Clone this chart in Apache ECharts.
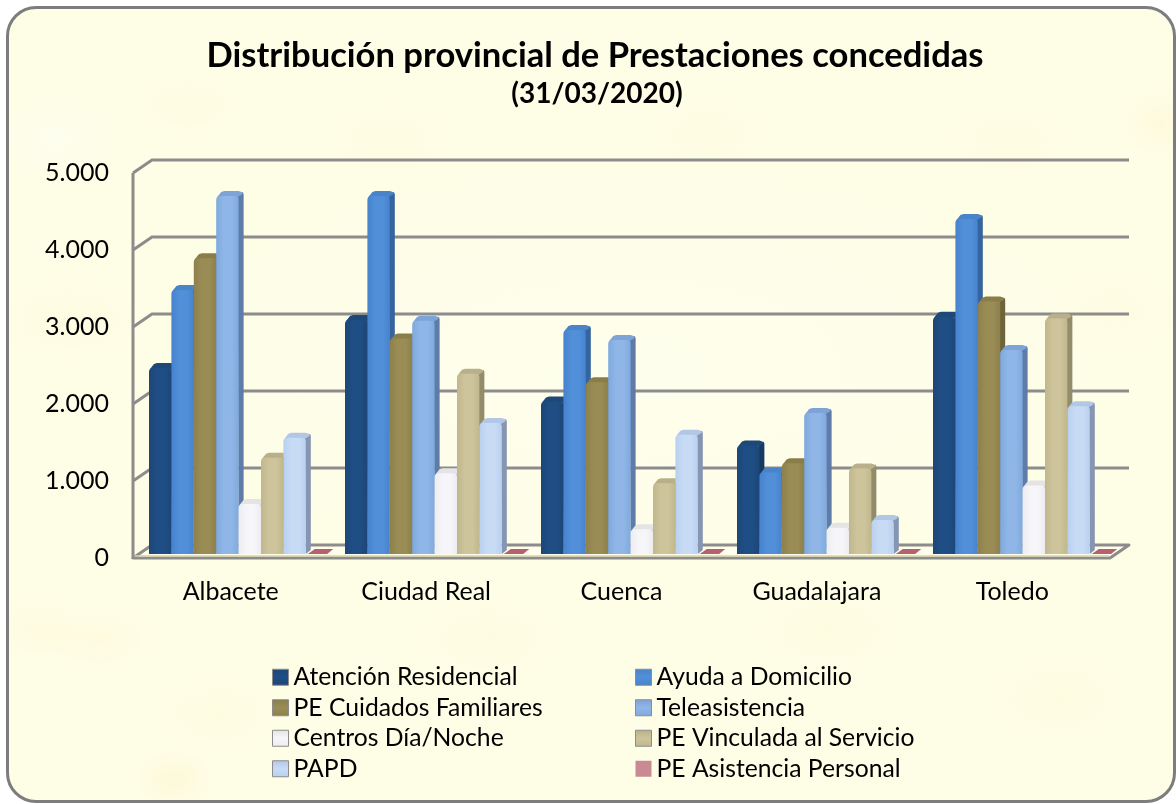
<!DOCTYPE html>
<html><head><meta charset="utf-8">
<style>
html,body{margin:0;padding:0;background:#fff;width:1176px;height:804px;overflow:hidden}
#frame{position:absolute;left:6px;top:6px;width:1164px;height:791px;border:3px solid #7d7d7d;border-radius:30px;
background-color:#fefde6;
background-image:
radial-gradient(ellipse 60px 40px at 45px 130px,rgba(255,255,248,.55),transparent),
radial-gradient(ellipse 50px 30px at 180px 95px,rgba(252,245,205,.25),transparent),
radial-gradient(ellipse 60px 35px at 380px 130px,rgba(252,245,205,.22),transparent),
radial-gradient(ellipse 60px 35px at 700px 125px,rgba(252,245,205,.2),transparent),
radial-gradient(ellipse 40px 35px at 1150px 115px,rgba(252,243,200,.35),transparent),
radial-gradient(ellipse 60px 35px at 1000px 130px,rgba(252,245,205,.2),transparent),
radial-gradient(ellipse 70px 40px at 60px 310px,rgba(252,245,205,.25),transparent),
radial-gradient(ellipse 50px 30px at 30px 620px,rgba(252,245,205,.3),transparent),
radial-gradient(ellipse 40px 30px at 165px 770px,rgba(250,240,190,.35),transparent),
radial-gradient(ellipse 55px 30px at 90px 630px,rgba(252,245,205,.3),transparent),
radial-gradient(ellipse 60px 35px at 210px 705px,rgba(252,245,205,.25),transparent),
radial-gradient(ellipse 70px 40px at 480px 630px,rgba(252,245,205,.25),transparent),
radial-gradient(ellipse 70px 40px at 820px 620px,rgba(252,245,205,.25),transparent),
radial-gradient(ellipse 70px 40px at 1050px 690px,rgba(252,245,205,.25),transparent),
radial-gradient(ellipse 70px 40px at 1100px 300px,rgba(252,245,205,.15),transparent),
radial-gradient(ellipse 520px 220px at 620px 360px,rgba(255,255,240,.7),transparent)}
#c{position:absolute;left:0;top:0;width:1176px;height:804px}
</style>
<script src="https://cdn.jsdelivr.net/npm/echarts@6/dist/echarts.min.js"></script>
</head><body><div id="frame"></div><div id="c"></div>
<script>
const categories = ['Albacete','Ciudad Real','Cuenca','Guadalajara','Toledo'];
const atencionResidencial = [2415,3040,1980,1410,3080];
const ayudaDomicilio = [3430,4650,2910,1060,4350];
const peCuidados = [3840,2800,2230,1180,3280];
const teleasistencia = [4650,3030,2780,1830,2650];
const centrosDiaNoche = [650,1050,320,340,890];
const peVinculada = [1250,2340,920,1110,3060];
const papd = [1510,1700,1550,440,1920];
const peAsistencia = [15,20,10,30,10];
const yTicks = [0,1000,2000,3000,4000,5000];

const seriesNames = ['Atención Residencial','Ayuda a Domicilio','PE Cuidados Familiares','Teleasistencia','Centros Día/Noche','PE Vinculada al Servicio','PAPD','PE Asistencia Personal'];
const seriesValues = [atencionResidencial,ayudaDomicilio,peCuidados,teleasistencia,centrosDiaNoche,peVinculada,papd,peAsistencia];
// front edge colour, centre colour, side, cap
const palette = [
 ['#1c4676','#1f4e85','#173a63','#1d4878'],
 ['#4682cd','#528fd9','#35659f','#4a84c8'],
 ['#8d804c','#9a8c55','#6f6439','#8a7d49'],
 ['#7fa9de','#8fb6e6','#5f7ca8','#7ea3d6'],
 ['#ececf1','#f6f6fa','#c4c4c4','#e4e4e4'],
 ['#c1b78c','#cdc49c','#938c6b','#b9b08a'],
 ['#b8d0ef','#c8dbf5','#8696b2','#b2c7e6'],
 ['#c07a85','#c98a93','#a05560','#b5616e']
];
const FW = 22.4, BAR_LEFT = 8, BAR_DROP = 4, SIDE = 5, CAP = 5, WALL_DX = 19, WALL_DY = 13;

function fmt(v){return String(v).replace(/\B(?=(\d{3})+$)/g,'.');}

function wallItem(params, api){
  const v = api.value(0);
  const n = categories.length;
  const band = api.size([1,0])[0];
  const c = api.coord([0,v]);
  const xL = c[0]-band/2, xR = xL+band*n, y = c[1];
  return {type:'polyline',shape:{points:[[xL,y],[xL+WALL_DX,y-WALL_DY],[xR+WALL_DX,y-WALL_DY]]},
    style:{stroke:'#8c8c8c',lineWidth:3,fill:null}};
}
function floorItem(params, api){
  const n = categories.length;
  const band = api.size([1,0])[0];
  const c0 = api.coord([0,0]), c5 = api.coord([0,yTicks[yTicks.length-1]]);
  const xL = c0[0]-band/2, xR = xL+band*n, y = c0[1];
  return {type:'group',children:[
    {type:'polygon',shape:{points:[[xL,y],[xR,y],[xR+WALL_DX,y-WALL_DY],[xL+WALL_DX,y-WALL_DY]]},
     style:{fill:'rgba(255,254,235,0.7)',stroke:'#8c8c8c',lineWidth:3,lineJoin:'round'}},
    {type:'line',shape:{x1:xL+1,y1:y-2,x2:xR-1,y2:y-2},style:{stroke:'#d9d2a8',lineWidth:1.5}},
    {type:'line',shape:{x1:xL,y1:y+1,x2:xL,y2:c5[1]},style:{stroke:'#8c8c8c',lineWidth:3}}
  ]};
}
function barItem(si){
  return function(params, api){
    const c = api.coord([api.value(0),api.value(1)]);
    const base = api.coord([api.value(0),0]);
    const band = api.size([1,0])[0];
    const x = c[0]-band/2+BAR_LEFT+si*FW, yT = c[1]-BAR_DROP, yB = base[1]-BAR_DROP;
    const p = palette[si];
    const grad = new echarts.graphic.LinearGradient(0,0,1,0,[{offset:0,color:p[0]},{offset:.35,color:p[1]},{offset:.7,color:p[1]},{offset:1,color:p[0]}]);
    const flat = yB-yT < 4;
    const kids = [];
    if(!flat){
      kids.push({type:'polygon',shape:{points:[[x+FW-1,yT-1],[x+FW+SIDE-1,yT-CAP+1],[x+FW+SIDE,yT-CAP+3],[x+FW+SIDE,yB-CAP+1],[x+FW,yB]]},style:{fill:p[2]}});
      kids.push({type:'polygon',shape:{points:[[x+1,yT+1],[x+FW-1,yT+1],[x+FW+SIDE-1,yT-CAP+3],[x+FW+SIDE-2,yT-CAP+1],[x+FW+SIDE-5,yT-CAP],[x+SIDE+3,yT-CAP],[x+SIDE,yT-CAP+1]]},style:{fill:p[3]}});
      kids.push({type:'rect',shape:{x:x,y:yT,width:FW,height:yB-yT,r:[4,4,0,0]},style:{fill:grad}});
    } else {
      kids.push({type:'polygon',shape:{points:[[x+2,yB],[x+FW-1,yB],[x+FW+SIDE,yB-CAP],[x+SIDE+4,yB-CAP]]},style:{fill:p[3]}});
    }
    return {type:'group',children:kids};
  };
}
const series = [
  {type:'custom',silent:true,z:1,xAxisIndex:0,yAxisIndex:0,data:yTicks.slice(1).map(v=>[v]),encode:{y:0},renderItem:wallItem,clip:false},
  {type:'custom',silent:true,z:1,xAxisIndex:0,yAxisIndex:0,data:[[0]],encode:{y:0},renderItem:floorItem,clip:false}
];
seriesNames.forEach((name,si)=>{
  series.push({type:'custom',name,z:2+si,xAxisIndex:1,yAxisIndex:1,legendIcon:'rect',itemStyle:{color:palette[si][1]},
    data:seriesValues[si].map((v,i)=>[i,v]),encode:{x:0,y:1},renderItem:barItem(si),clip:false});
});
function legendEntry(i){
  const p = palette[i];
  if(i===7) return {name:seriesNames[i],icon:'rect',itemStyle:{color:p[1],borderWidth:0}};
  return {name:seriesNames[i],icon:'rect',itemStyle:{color:new echarts.graphic.LinearGradient(0,0,0,1,[{offset:0,color:p[3]},{offset:.5,color:p[1]},{offset:1,color:p[0]}]),borderColor:'#8c8c8c',borderWidth:1}};
}
const legendBase = {orient:'vertical',selectedMode:false,itemWidth:16,itemHeight:16,itemGap:0,
  textStyle:{fontFamily:'Lato',fontSize:24.7,color:'#000',lineHeight:30.5,height:30.5,padding:[0,0,0,0]},padding:0};
const chart = echarts.init(document.getElementById('c'),null,{renderer:'canvas'});
const hiddenAxis = {axisLine:{show:false},axisTick:{show:false},splitLine:{show:false}};
chart.setOption({
  animation:false,backgroundColor:'transparent',
  title:[
    {text:'Distribución provincial de Prestaciones concedidas',left:595,top:38,textAlign:'center',padding:0,
     textStyle:{fontFamily:'Lato',fontWeight:'bold',fontSize:34.6,color:'#000'}},
    {text:'(31/03/2020)',left:597,top:80,textAlign:'center',padding:0,
     textStyle:{fontFamily:'Lato',fontWeight:'bold',fontSize:28,color:'#000'}}
  ],
  legend:[
    Object.assign({},legendBase,{left:272,top:662,data:[0,2,4,6].map(legendEntry)}),
    Object.assign({},legendBase,{left:635,top:662,data:[1,3,5,7].map(legendEntry)})
  ],
  grid:[
    {left:133,top:173,width:977,height:385},
    {left:141,top:173,width:980,height:385}
  ],
  xAxis:[
    Object.assign({type:'category',gridIndex:0,data:categories,
      axisLabel:{fontFamily:'Lato',fontSize:25,color:'#000',margin:21}},hiddenAxis),
    Object.assign({type:'category',gridIndex:1,data:categories,axisLabel:{show:false}},hiddenAxis)
  ],
  yAxis:[
    Object.assign({type:'value',gridIndex:0,min:0,max:5000,interval:1000,
      axisLabel:{fontFamily:'Lato',fontSize:25,color:'#000',margin:24,padding:[4,0,0,0],formatter:fmt}},hiddenAxis),
    Object.assign({type:'value',gridIndex:1,min:0,max:5000,interval:1000,axisLabel:{show:false}},hiddenAxis)
  ],
  series
});
</script></body></html>
